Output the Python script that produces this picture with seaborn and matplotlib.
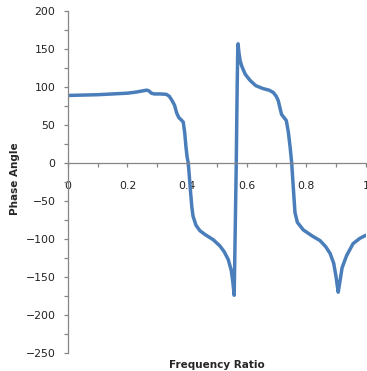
"""Phase angle against frequency ratio."""
import matplotlib
matplotlib.use("Agg")
import matplotlib.pyplot as plt
import numpy as np
import seaborn as sns
from matplotlib.ticker import MultipleLocator


freq_ratio = [
    0.0, 0.05, 0.10, 0.15, 0.20, 0.23, 0.25, 0.265, 0.272, 0.28, 0.29, 0.31,
    0.33, 0.34, 0.35, 0.358, 0.365, 0.372, 0.38, 0.387, 0.392, 0.396, 0.40,
    0.404, 0.408, 0.412, 0.416, 0.42, 0.43, 0.443, 0.46, 0.488, 0.51, 0.525,
    0.538, 0.548, 0.553, 0.556, 0.558, 0.561, 0.565, 0.568, 0.570, 0.571,
    0.574, 0.578, 0.583, 0.595, 0.611, 0.63, 0.655, 0.675, 0.689, 0.699,
    0.706, 0.712, 0.717, 0.725, 0.733, 0.740, 0.746, 0.751, 0.756, 0.762,
    0.77, 0.79, 0.82, 0.846, 0.865, 0.88, 0.892, 0.90, 0.907, 0.912, 0.92,
    0.935, 0.957, 0.98, 1.0,
]
phase_angle = [
    89, 89.5, 90, 91, 92, 93.5, 95, 96, 95, 92, 91, 91,
    90.5, 88, 82, 76, 66, 60, 57, 54, 40, 22, 8,
    0, -20, -40, -58, -70, -82, -89, -94, -101, -109, -117,
    -127, -141, -155, -166, -174, -100, 0, 100, 150, 157,
    145, 135, 128, 117, 109, 102, 98, 96, 93, 88,
    82, 72, 64, 60, 56, 40, 20, 0, -30, -65,
    -78, -88, -96, -102, -110, -119, -132, -150, -170, -158, -138,
    -122, -106, -99, -95,
]

sns.set_style("white")
plt.rcParams["font.family"] = ["DejaVu Sans"]

fig = plt.figure(figsize=(3.67, 3.71), dpi=100)
ax = fig.add_axes([0.185, 0.0485, 0.812, 0.9215])

sns.lineplot(x=np.array(freq_ratio), y=np.array(phase_angle), ax=ax,
             color="#4a7ebb", linewidth=2.5, estimator=None)

ax.set_xlim(0, 1)
ax.set_ylim(-250, 200)
ax.xaxis.set_major_locator(MultipleLocator(0.2))
ax.xaxis.set_minor_locator(MultipleLocator(0.1))
ax.yaxis.set_major_locator(MultipleLocator(50))
ax.yaxis.set_minor_locator(MultipleLocator(25))
ax.set_xticklabels([f"{v:g}" for v in ax.get_xticks()])

for side in ["top", "right"]:
    ax.spines[side].set_visible(False)
ax.spines["bottom"].set_position(("data", 0))
for side in ["left", "bottom"]:
    ax.spines[side].set_color("#868686")
    ax.spines[side].set_linewidth(0.9)

ax.tick_params(axis="both", which="both", direction="out", color="#868686",
               width=0.9, labelsize=7.8, labelcolor="#222222")
ax.tick_params(axis="x", which="both", length=3, pad=10)
ax.tick_params(axis="y", which="both", length=3, pad=6)
ax.tick_params(left=True, bottom=True, which="both")

ax.set_xlabel("Frequency Ratio", fontsize=7.5, fontweight="bold")
ax.set_ylabel("Phase Angle", fontsize=7.5, fontweight="bold")
ax.xaxis.set_label_coords(0.5, -0.02)
ax.yaxis.set_label_coords(-0.161, 0.51)

fig.savefig("out.png", dpi=100)
